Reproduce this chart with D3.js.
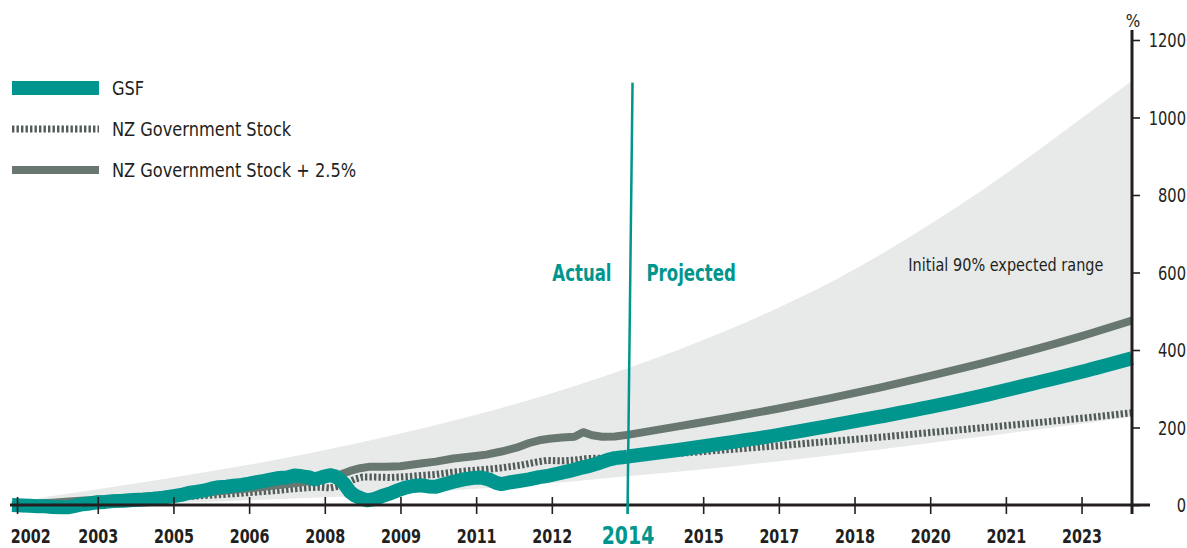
<!DOCTYPE html>
<html>
<head>
<meta charset="utf-8">
<script src="https://cdn.jsdelivr.net/npm/d3@7/dist/d3.min.js"></script>
<style>
  html, body { margin: 0; padding: 0; background: #ffffff; }
  svg { display: block; }
  text { font-family: "DejaVu Sans Condensed", "DejaVu Sans", sans-serif; }
</style>
</head>
<body>
<svg id="chart" width="1187" height="548"></svg>
<script>
// ---------- DATA ----------
const seriesNames = ["GSF", "NZ Government Stock", "NZ Government Stock + 2.5%"];

// x-axis ticks (every 1.5 years) and their labels
const tickYears  = [2001.9, 2003.5, 2005, 2006.5, 2008, 2009.5, 2011, 2012.5, 2014, 2015.5, 2017, 2018.5, 2020, 2021.5, 2023];
const tickLabels = ["2002","2003","2005","2006","2008","2009","2011","2012","2014","2015","2017","2018","2020","2021","2023"];
const yTicks = [0, 200, 400, 600, 800, 1000, 1200];

// Initial 90% expected range (band)
const bandYears = [2001.8, 2002.4, 2003, 2004, 2005, 2006, 2007, 2008, 2009, 2010, 2011, 2012, 2013, 2014, 2015, 2016, 2017, 2018, 2019, 2020, 2021, 2022, 2023, 2024];
const bandUpper = [0, 19, 31, 51, 71, 93, 116, 142, 170, 200, 233, 269, 309, 353, 400, 452, 510, 573, 645, 725, 810, 902, 998, 1095];
const bandLower = [0, -2, -2, 0, 5, 10, 15, 20, 26, 33, 42, 51, 62, 74, 86, 99, 113, 128, 143, 160, 176, 193, 210, 228];

// Actual: GSF
const gsfYears = [2001.8, 2002.0, 2002.15, 2002.3, 2002.45, 2002.6, 2002.75, 2002.9, 2003.05, 2003.2, 2003.35, 2003.5, 2003.65, 2003.8, 2004.0, 2004.2, 2004.4, 2004.6, 2004.8, 2005.0, 2005.15, 2005.3, 2005.45, 2005.6, 2005.75, 2005.9, 2006.05, 2006.2, 2006.35, 2006.5, 2006.65, 2006.8, 2006.95, 2007.1, 2007.25, 2007.4, 2007.55, 2007.7, 2007.8, 2007.95, 2008.1, 2008.2, 2008.3, 2008.4, 2008.5, 2008.6, 2008.72, 2008.84, 2009.0, 2009.15, 2009.3, 2009.45, 2009.6, 2009.75, 2009.9, 2010.05, 2010.2, 2010.35, 2010.55, 2010.75, 2010.95, 2011.1, 2011.25, 2011.4, 2011.5, 2011.65, 2011.85, 2012.05, 2012.25, 2012.45, 2012.65, 2012.85, 2013.05, 2013.25, 2013.45, 2013.6, 2013.75, 2013.9, 2014.0];
const gsfValues = [0, -1, -2, -3, -3, -5, -6, -6, -2, 2, 4, 7, 8, 10, 11, 13, 14, 16, 19, 23, 26, 31, 34, 37, 42, 46, 47, 50, 52, 55, 59, 62, 66, 70, 71, 76, 74, 71, 66, 72, 77, 74, 66, 52, 34, 24, 17, 12, 16, 24, 30, 38, 45, 49, 51, 48, 47, 53, 60, 66, 70, 71, 66, 57, 54, 58, 62, 66, 72, 76, 82, 88, 95, 101, 109, 116, 121, 123, 125];

// Actual: NZ Government Stock
const govYears = [2001.8, 2002.2, 2002.6, 2003.0, 2003.4, 2003.8, 2004.2, 2004.6, 2005.0, 2005.4, 2005.8, 2006.2, 2006.6, 2007.0, 2007.4, 2007.7, 2007.9, 2008.1, 2008.3, 2008.45, 2008.6, 2008.75, 2009.0, 2009.3, 2009.6, 2009.9, 2010.2, 2010.5, 2010.9, 2011.2, 2011.5, 2011.9, 2012.2, 2012.4, 2012.7, 2012.95, 2013.2, 2013.5, 2013.75, 2014.0];
const govValues = [0, 2, 4, 7, 10, 12, 15, 17, 20, 23, 26, 29, 33, 37, 42, 45, 46, 44, 49, 58, 67, 72, 72, 71, 73, 76, 79, 84, 89, 92, 96, 103, 111, 115, 114, 116, 120, 121, 122, 124];

// Actual: NZ Government Stock + 2.5%
const govPlusYears = [2001.8, 2002.2, 2002.6, 2003.0, 2003.4, 2003.8, 2004.2, 2004.6, 2005.0, 2005.4, 2005.8, 2006.2, 2006.6, 2007.0, 2007.4, 2007.8, 2008.1, 2008.3, 2008.5, 2008.7, 2008.9, 2009.2, 2009.5, 2009.9, 2010.2, 2010.55, 2010.95, 2011.2, 2011.5, 2011.8, 2012.05, 2012.25, 2012.45, 2012.7, 2012.95, 2013.12, 2013.3, 2013.5, 2013.75, 2014.0];
const govPlusValues = [0, 3, 6, 10, 13, 16, 19, 22, 26, 30, 34, 39, 44, 50, 56, 63, 70, 78, 88, 95, 99, 99, 100, 107, 112, 120, 126, 130, 138, 148, 160, 167, 171, 174, 176, 188, 180, 176, 177, 181];

// Projected (yearly)
const projYears = [2014, 2015, 2016, 2017, 2018, 2019, 2020, 2021, 2022, 2023, 2024];
const gsfProj     = [125, 142, 161, 181, 204, 228, 253, 281, 312, 344, 379];
const govProj     = [124, 133, 143, 153, 164, 175, 187, 199, 211, 224, 238];
const govPlusProj = [181, 203, 225, 249, 275, 303, 333, 365, 399, 436, 476];

const dividerYear = 2014;

// ---------- DRAW ----------
const TEAL = "#00968e", GREY = "#68776f", DOT = "#525c58", BAND = "#e8eaea", INK = "#231f20";
const svg = d3.select("#chart");
const x = d3.scaleLinear().domain([2001.8, 2024]).range([12, 1132]);
const y = d3.scaleLinear().domain([0, 1200]).range([505, 40]);

// band
const band = bandYears.map((yr, i) => ({yr, lo: bandLower[i], hi: bandUpper[i]}));
svg.append("path")
  .datum(band)
  .attr("fill", BAND)
  .attr("d", d3.area().x(d => x(d.yr)).y0(d => y(d.lo)).y1(d => y(d.hi)).curve(d3.curveMonotoneX));

// helper: horizontally condensed text
function ctext(parent, px, py, str, opts) {
  const g = parent.append("g").attr("transform", `translate(${px},${py}) scale(${opts.sx || 1},1)`);
  const t = g.append("text").attr("text-anchor", opts.anchor || "start")
    .attr("font-size", opts.size).attr("font-weight", opts.weight || "normal")
    .style("fill", opts.fill || INK).text(str);
  if (opts.dy) t.attr("dy", opts.dy);
  return t;
}

ctext(svg, x(2021.5), y(605), "Initial 90% expected range", {size: 17.5, sx: 0.92, anchor: "middle"});

function pts(ys, vs) { return ys.map((yr, i) => ({yr, v: vs[i]})); }
const lineAct = d3.line().x(d => x(d.yr)).y(d => y(d.v));
const lineProj = d3.line().x(d => x(d.yr)).y(d => y(d.v)).curve(d3.curveMonotoneX);

// NZ Government Stock (dotted)
[[pts(govYears, govValues), lineAct], [pts(projYears, govProj), lineProj]].forEach(([d, gen]) => {
  svg.append("path").datum(d).attr("fill", "none").attr("stroke", DOT)
    .attr("stroke-width", 7).attr("stroke-dasharray", "2.4,2.1").attr("d", gen);
});
// NZ Government Stock + 2.5%
[[pts(govPlusYears, govPlusValues), lineAct], [pts(projYears, govPlusProj), lineProj]].forEach(([d, gen]) => {
  svg.append("path").datum(d).attr("fill", "none").attr("stroke", GREY)
    .attr("stroke-width", 8).attr("stroke-linejoin", "round").attr("d", gen);
});
// GSF
[[pts(gsfYears, gsfValues), lineAct], [pts(projYears, gsfProj), lineProj]].forEach(([d, gen]) => {
  svg.append("path").datum(d).attr("fill", "none").attr("stroke", TEAL)
    .attr("stroke-width", 14).attr("stroke-linejoin", "round").attr("d", gen);
});

// x axis
const xAxis = svg.append("g").attr("transform", `translate(0,${y(0)})`)
  .call(d3.axisBottom(x).tickValues(tickYears).tickFormat((d, i) => tickLabels[i]).tickSize(9).tickPadding(14));
xAxis.select(".domain").remove();
xAxis.selectAll(".tick line").attr("y1", -8).attr("y2", 9).attr("stroke", INK).attr("stroke-width", 1.6);
xAxis.selectAll(".tick text")
  .attr("font-family", "'DejaVu Sans Condensed', 'DejaVu Sans', sans-serif")
  .attr("font-weight", "bold").attr("font-size", 19).style("fill", INK)
  .attr("y", 0).attr("dy", 0)
  .attr("transform", "translate(0,38) scale(0.84,1)");
xAxis.selectAll(".tick text").filter((d, i) => i === 0).attr("text-anchor", "start").attr("x", -8);
xAxis.selectAll(".tick").filter(d => d === dividerYear).select("text")
  .style("fill", TEAL).attr("font-size", 25).attr("transform", "translate(0,39) scale(0.84,1)");
xAxis.selectAll(".tick").filter(d => d === dividerYear).select("line").attr("stroke", TEAL);
svg.append("line").attr("x1", x.range()[0] - 2).attr("x2", x.range()[1] + 18)
  .attr("y1", y(0)).attr("y2", y(0)).attr("stroke", INK).attr("stroke-width", 3);

// y axis
const yAxis = svg.append("g").attr("transform", `translate(${x.range()[1]},0)`)
  .call(d3.axisRight(y).tickValues(yTicks).tickFormat(d3.format("d")).tickSize(8).tickPadding(0));
yAxis.select(".domain").remove();
yAxis.selectAll(".tick line").attr("stroke", INK).attr("stroke-width", 1.6);
yAxis.selectAll(".tick text").attr("x", 0).attr("dy", "0.36em").attr("text-anchor", "end")
  .attr("font-family", "'DejaVu Sans Condensed', 'DejaVu Sans', sans-serif")
  .attr("font-size", 19).style("fill", INK)
  .attr("transform", "translate(54,0) scale(0.86,1)");
svg.append("line").attr("x1", x.range()[1]).attr("x2", x.range()[1])
  .attr("y1", y(1200) - 10).attr("y2", y(0) + 9).attr("stroke", INK).attr("stroke-width", 3);
svg.append("text").attr("x", x.range()[1] + 1).attr("y", 27).attr("text-anchor", "middle")
  .attr("font-size", 17).style("fill", INK).text("%");

// divider line Actual / Projected
svg.append("line").attr("x1", x(dividerYear + 0.1)).attr("y1", y(1090))
  .attr("x2", x(dividerYear)).attr("y2", y(0) + 9).attr("stroke", TEAL).attr("stroke-width", 2.5);
ctext(svg, x(dividerYear) - 16, y(600), "Actual", {size: 23, weight: "bold", sx: 0.8, anchor: "end", fill: TEAL, dy: "0.35em"});
ctext(svg, x(dividerYear) + 19, y(600), "Projected", {size: 23, weight: "bold", sx: 0.8, anchor: "start", fill: TEAL, dy: "0.35em"});

// legend
const legend = svg.append("g");
const legY = [88, 129, 170];
const legStyle = [
  {stroke: TEAL, w: 14, dash: null},
  {stroke: DOT, w: 7, dash: "2.4,2.1"},
  {stroke: GREY, w: 8, dash: null}
];
seriesNames.forEach((name, i) => {
  legend.append("line").attr("x1", 12).attr("x2", 99).attr("y1", legY[i]).attr("y2", legY[i])
    .attr("stroke", legStyle[i].stroke).attr("stroke-width", legStyle[i].w)
    .attr("stroke-dasharray", legStyle[i].dash);
  ctext(legend, 112, legY[i], name, {size: 20, sx: 0.9, dy: "0.36em"});
});
</script>
</body>
</html>
